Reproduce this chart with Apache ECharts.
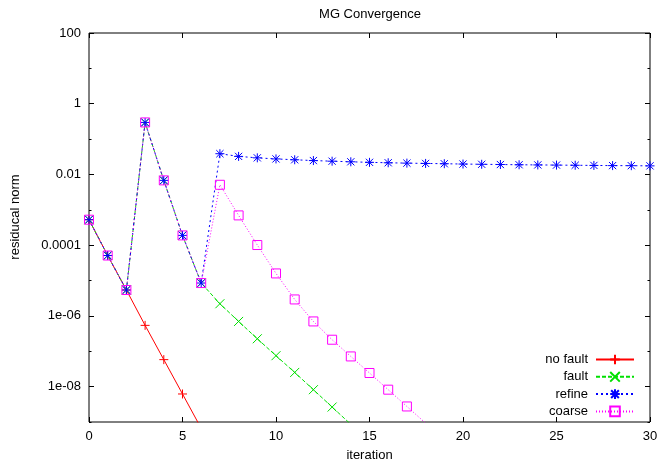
<!DOCTYPE html>
<html>
<head>
<meta charset="utf-8">
<script src="https://cdn.jsdelivr.net/npm/echarts@6/dist/echarts.min.js"></script>
<style>
  html, body { margin: 0; padding: 0; background: #fff; }
  #chart { width: 660px; height: 461px; }
</style>
</head>
<body>
<div id="chart"></div>
<script>
// ---- data ----
const titleText = 'MG Convergence';
const xName = 'iteration';
const yName = 'residucal norm';
const seriesNames = ['no fault', 'fault', 'refine', 'coarse'];

const noFaultX = [0, 1, 2, 3, 4, 5, 6];
const noFaultY = [5.25e-4, 5.1e-5, 5.4e-6, 5.4e-7, 5.8e-8, 6.2e-9, 6.6e-10];

const faultX = [0, 1, 2, 3, 4, 5, 6, 7, 8, 9, 10, 11, 12, 13, 14];
const faultY = [5.25e-4, 5.1e-5, 5.4e-6, 0.296, 6.8e-3, 1.89e-4, 8.5e-6,
                2.21e-6, 6.98e-7, 2.26e-7, 7.5e-8, 2.52e-8, 8.2e-9, 2.65e-9, 8.6e-10];

const refineX = [0, 1, 2, 3, 4, 5, 6, 7, 8, 9, 10, 11, 12, 13, 14, 15, 16, 17, 18,
                 19, 20, 21, 22, 23, 24, 25, 26, 27, 28, 29, 30];
const refineY = [5.25e-4, 5.1e-5, 5.4e-6, 0.296, 6.8e-3, 1.89e-4, 8.5e-6,
                 0.0386, 0.0324, 0.0295, 0.0275, 0.026, 0.0247, 0.0237, 0.0228,
                 0.022, 0.0214, 0.0209, 0.0205, 0.0201, 0.0197, 0.0194, 0.0191,
                 0.0188, 0.0186, 0.0184, 0.0182, 0.018, 0.0178, 0.0177, 0.0175];

const coarseX = [0, 1, 2, 3, 4, 5, 6, 7, 8, 9, 10, 11, 12, 13, 14, 15, 16, 17, 18];
const coarseY = [5.25e-4, 5.1e-5, 5.4e-6, 0.296, 6.8e-3, 1.89e-4, 8.5e-6,
                 5.1e-3, 6.95e-4, 1.01e-4, 1.59e-5, 2.92e-6, 6.98e-7, 2.12e-7,
                 7.15e-8, 2.43e-8, 8.2e-9, 2.75e-9, 9.3e-10];

const yMajorTicks = [1e-8, 1e-6, 1e-4, 1e-2, 1, 100];
const yMajorLabels = ['1e-08', '1e-06', '0.0001', '0.01', '1', '100'];
const yMinorTicks = [1e-9, 1e-7, 1e-5, 1e-3, 1e-1, 10];

// ---- chart ----
const FONT = '"Liberation Sans", Arial, sans-serif';
const zip = (xs, ys) => xs.map((x, i) => [x, ys[i]]);

const SYM_PLUS = 'path://M0,5L10,5M5,0L5,10';
const SYM_X = 'path://M0,0L10,10M0,10L10,0';
const SYM_STAR = 'path://M0,5L10,5M5,0L5,10M1,1L9,9M1,9L9,1';
const SYM_SQ = 'path://M0,0L10,0L10,10L0,10Z';

function yLabel(v) {
  const l = Math.log10(v);
  let best = -1, bd = 1e9;
  yMajorTicks.forEach((t, i) => {
    const d = Math.abs(Math.log10(t) - l);
    if (d < bd) { bd = d; best = i; }
  });
  return bd < 0.01 ? yMajorLabels[best] : '';
}

function yAxisDef(pos, ticks, len, withLabel) {
  return {
    type: 'log', logBase: 10, min: 1e-9, max: 100, position: pos,
    axisLine: { show: false },
    splitLine: { show: false },
    minorTick: { show: false },
    axisTick: { show: true, inside: true, length: len, customValues: ticks,
                lineStyle: { color: '#000', width: 1 } },
    axisLabel: withLabel ? {
      show: true, customValues: ticks, margin: 8, color: '#000',
      fontSize: 13, fontFamily: FONT, formatter: yLabel
    } : { show: false }
  };
}

function xAxisDef(pos, withLabel) {
  return {
    type: 'value', min: 0, max: 30, interval: 5, position: pos,
    axisLine: { show: false },
    splitLine: { show: false },
    axisTick: { show: true, inside: true, length: 5, lineStyle: { color: '#000', width: 1 } },
    axisLabel: withLabel ? { show: true, margin: 8, color: '#000', fontSize: 13, fontFamily: FONT }
                         : { show: false },
    name: withLabel ? xName : '',
    nameLocation: 'middle',
    nameGap: 27,
    nameTextStyle: { color: '#000', fontSize: 13, fontFamily: FONT }
  };
}

function mkSeries(name, xs, ys, color, dash, symbol) {
  return {
    name: name, type: 'line', xAxisIndex: 0, yAxisIndex: 0,
    data: zip(xs, ys),
    clip: true,
    symbol: symbol, symbolSize: 9, showSymbol: true,
    lineStyle: { color: color, width: 1, type: dash },
    itemStyle: { color: 'rgba(0,0,0,0)', borderColor: color, borderWidth: 1 },
    emphasis: { disabled: true },
    animation: false
  };
}

const chart = echarts.init(document.getElementById('chart'), null, { renderer: 'canvas' });
chart.setOption({
  animation: false,
  backgroundColor: '#fff',
  grid: {
    left: 89, top: 33, width: 561, height: 389,
    show: true, borderColor: '#000', borderWidth: 1, backgroundColor: 'transparent',
    containLabel: false, outerBoundsMode: 'none'
  },
  xAxis: [xAxisDef('bottom', true), xAxisDef('top', false)],
  yAxis: [
    yAxisDef('left', yMajorTicks, 5, true),
    yAxisDef('left', yMinorTicks, 2.5, false),
    yAxisDef('right', yMajorTicks, 5, false),
    yAxisDef('right', yMinorTicks, 2.5, false)
  ],
  legend: {
    orient: 'vertical', align: 'right',
    right: 25, top: 353, padding: 0,
    itemWidth: 38, itemHeight: 12, itemGap: 4.3,
    textStyle: { color: '#000', fontSize: 13, fontFamily: FONT, padding: [0, 3, 0, 0] },
    data: seriesNames
  },
  graphic: [
    { type: 'text', x: 370, y: 14,
      style: { text: titleText, fill: '#000', font: '13px ' + FONT, align: 'center', verticalAlign: 'middle' } },
    { type: 'text', x: 15, y: 217, rotation: Math.PI / 2,
      style: { text: yName, fill: '#000', font: '13px ' + FONT, align: 'center', verticalAlign: 'middle' } }
  ],
  series: [
    mkSeries(seriesNames[0], noFaultX, noFaultY, '#ff0000', 'solid', SYM_PLUS),
    mkSeries(seriesNames[1], faultX, faultY, '#00e000', [4, 2], SYM_X),
    mkSeries(seriesNames[2], refineX, refineY, '#0000ff', [2, 3], SYM_STAR),
    mkSeries(seriesNames[3], coarseX, coarseY, '#ff00ff', [1, 2], SYM_SQ)
  ]
});
</script>
</body>
</html>
